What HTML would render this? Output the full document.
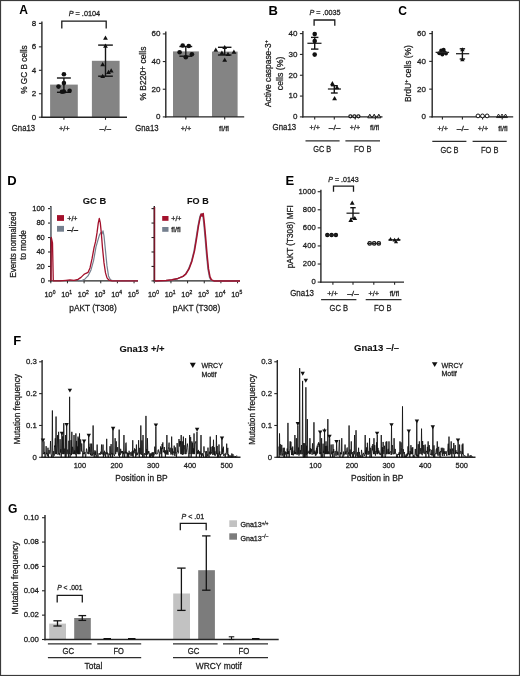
<!DOCTYPE html>
<html><head><meta charset="utf-8"><style>
html,body{margin:0;padding:0;background:#fff;}
svg{display:block;will-change:transform;}
text{font-family:"Liberation Sans", sans-serif;}
</style></head><body>
<svg width="520" height="676" viewBox="0 0 520 676" font-family="Liberation Sans, sans-serif">
<rect x="0" y="0" width="520" height="676" fill="#fff"/>
<text transform="translate(19.20 14.40) scale(0.93 1)" font-size="13" font-weight="bold" fill="#000">A</text>
<rect x="50.10" y="84.60" width="27.70" height="32.60" fill="#848484"/>
<rect x="91.90" y="60.80" width="27.70" height="56.40" fill="#848484"/>
<line x1="41.90" y1="21.60" x2="41.90" y2="117.90" stroke="#262626" stroke-width="1.4"/>
<line x1="38.90" y1="23.40" x2="41.90" y2="23.40" stroke="#262626" stroke-width="1.1"/>
<text x="36.30" y="25.78" font-size="8.0" text-anchor="end" fill="#1e1e1e" stroke="#1e1e1e" stroke-width="0.28">8</text>
<line x1="38.90" y1="46.85" x2="41.90" y2="46.85" stroke="#262626" stroke-width="1.1"/>
<text x="36.30" y="49.23" font-size="8.0" text-anchor="end" fill="#1e1e1e" stroke="#1e1e1e" stroke-width="0.28">6</text>
<line x1="38.90" y1="70.30" x2="41.90" y2="70.30" stroke="#262626" stroke-width="1.1"/>
<text x="36.30" y="72.68" font-size="8.0" text-anchor="end" fill="#1e1e1e" stroke="#1e1e1e" stroke-width="0.28">4</text>
<line x1="38.90" y1="93.75" x2="41.90" y2="93.75" stroke="#262626" stroke-width="1.1"/>
<text x="36.30" y="96.13" font-size="8.0" text-anchor="end" fill="#1e1e1e" stroke="#1e1e1e" stroke-width="0.28">2</text>
<line x1="38.90" y1="117.20" x2="41.90" y2="117.20" stroke="#262626" stroke-width="1.1"/>
<text x="36.30" y="119.58" font-size="8.0" text-anchor="end" fill="#1e1e1e" stroke="#1e1e1e" stroke-width="0.28">0</text>
<line x1="41.20" y1="117.20" x2="127.00" y2="117.20" stroke="#262626" stroke-width="1.4"/>
<line x1="63.90" y1="117.20" x2="63.90" y2="119.80" stroke="#262626" stroke-width="1.1"/>
<line x1="105.50" y1="117.20" x2="105.50" y2="119.80" stroke="#262626" stroke-width="1.1"/>
<line x1="63.90" y1="78.00" x2="63.90" y2="92.30" stroke="#141414" stroke-width="1.4"/>
<line x1="56.95" y1="78.00" x2="70.85" y2="78.00" stroke="#141414" stroke-width="1.4"/>
<line x1="56.95" y1="92.30" x2="70.85" y2="92.30" stroke="#141414" stroke-width="1.4"/>
<circle cx="63.90" cy="74.20" r="2.3" fill="#111"/>
<circle cx="63.90" cy="83.10" r="2.3" fill="#111"/>
<circle cx="58.50" cy="86.60" r="2.3" fill="#111"/>
<circle cx="63.90" cy="91.50" r="2.3" fill="#111"/>
<circle cx="69.60" cy="90.80" r="2.3" fill="#111"/>
<circle cx="62.00" cy="91.80" r="2.3" fill="#111"/>
<line x1="105.50" y1="45.10" x2="105.50" y2="76.20" stroke="#141414" stroke-width="1.4"/>
<line x1="98.15" y1="45.10" x2="112.85" y2="45.10" stroke="#141414" stroke-width="1.4"/>
<line x1="98.15" y1="76.20" x2="112.85" y2="76.20" stroke="#141414" stroke-width="1.4"/>
<polygon points="103.10,39.81 107.90,39.81 105.50,35.59" fill="#111"/>
<polygon points="103.10,47.71 107.90,47.71 105.50,43.49" fill="#111"/>
<polygon points="100.30,66.31 105.10,66.31 102.70,62.09" fill="#111"/>
<polygon points="108.80,72.41 113.60,72.41 111.20,68.19" fill="#111"/>
<polygon points="106.10,73.91 110.90,73.91 108.50,69.69" fill="#111"/>
<polygon points="100.30,77.91 105.10,77.91 102.70,73.69" fill="#111"/>
<polyline points="61.80,28.50 61.80,21.20 106.20,21.20 106.20,28.50" fill="none" stroke="#1a1a1a" stroke-width="1.3"/>
<text x="84.40" y="15.60" font-size="7.3" text-anchor="middle" fill="#1e1e1e" stroke="#1e1e1e" stroke-width="0.28" textLength="31.4" lengthAdjust="spacingAndGlyphs"><tspan font-style="italic">P</tspan> = .0104</text>
<text x="26.60" y="69.50" font-size="8.2" text-anchor="middle" textLength="48.5" lengthAdjust="spacingAndGlyphs" transform="rotate(-90 26.60 69.50)" fill="#1e1e1e" stroke="#1e1e1e" stroke-width="0.28">% GC B cells</text>
<text x="11.80" y="130.50" font-size="8.6" textLength="23.3" lengthAdjust="spacingAndGlyphs" fill="#1e1e1e" stroke="#1e1e1e" stroke-width="0.28">Gna13</text>
<text x="64.20" y="130.50" font-size="7.4" text-anchor="middle" textLength="10.6" lengthAdjust="spacingAndGlyphs" fill="#1e1e1e" stroke="#1e1e1e" stroke-width="0.28">+/+</text>
<text x="105.30" y="130.50" font-size="7.4" text-anchor="middle" textLength="11.4" lengthAdjust="spacingAndGlyphs" fill="#1e1e1e" stroke="#1e1e1e" stroke-width="0.28">–/–</text>
<rect x="173.00" y="51.40" width="25.90" height="65.50" fill="#848484"/>
<rect x="212.00" y="51.60" width="25.60" height="65.30" fill="#848484"/>
<line x1="165.80" y1="31.60" x2="165.80" y2="117.60" stroke="#262626" stroke-width="1.4"/>
<line x1="162.80" y1="33.90" x2="165.80" y2="33.90" stroke="#262626" stroke-width="1.1"/>
<text x="160.40" y="36.28" font-size="8.0" text-anchor="end" fill="#1e1e1e" stroke="#1e1e1e" stroke-width="0.28">60</text>
<line x1="162.80" y1="61.57" x2="165.80" y2="61.57" stroke="#262626" stroke-width="1.1"/>
<text x="160.40" y="63.95" font-size="8.0" text-anchor="end" fill="#1e1e1e" stroke="#1e1e1e" stroke-width="0.28">40</text>
<line x1="162.80" y1="89.23" x2="165.80" y2="89.23" stroke="#262626" stroke-width="1.1"/>
<text x="160.40" y="91.61" font-size="8.0" text-anchor="end" fill="#1e1e1e" stroke="#1e1e1e" stroke-width="0.28">20</text>
<line x1="162.80" y1="116.90" x2="165.80" y2="116.90" stroke="#262626" stroke-width="1.1"/>
<text x="160.40" y="119.28" font-size="8.0" text-anchor="end" fill="#1e1e1e" stroke="#1e1e1e" stroke-width="0.28">0</text>
<line x1="165.10" y1="116.90" x2="244.20" y2="116.90" stroke="#262626" stroke-width="1.4"/>
<line x1="185.80" y1="116.90" x2="185.80" y2="119.50" stroke="#262626" stroke-width="1.1"/>
<line x1="224.70" y1="116.90" x2="224.70" y2="119.50" stroke="#262626" stroke-width="1.1"/>
<line x1="185.80" y1="46.50" x2="185.80" y2="56.20" stroke="#141414" stroke-width="1.4"/>
<line x1="179.40" y1="46.50" x2="192.20" y2="46.50" stroke="#141414" stroke-width="1.4"/>
<line x1="179.40" y1="56.20" x2="192.20" y2="56.20" stroke="#141414" stroke-width="1.4"/>
<circle cx="182.70" cy="45.50" r="2.3" fill="#111"/>
<circle cx="188.80" cy="46.00" r="2.3" fill="#111"/>
<circle cx="179.60" cy="52.20" r="2.3" fill="#111"/>
<circle cx="191.90" cy="54.20" r="2.3" fill="#111"/>
<circle cx="185.80" cy="57.30" r="2.3" fill="#111"/>
<line x1="224.70" y1="47.30" x2="224.70" y2="55.00" stroke="#141414" stroke-width="1.4"/>
<line x1="217.95" y1="47.30" x2="231.45" y2="47.30" stroke="#141414" stroke-width="1.4"/>
<line x1="217.95" y1="55.00" x2="231.45" y2="55.00" stroke="#141414" stroke-width="1.4"/>
<polygon points="213.40,51.71 218.20,51.71 215.80,47.49" fill="#111"/>
<polygon points="222.30,49.11 227.10,49.11 224.70,44.89" fill="#111"/>
<polygon points="219.50,54.81 224.30,54.81 221.90,50.59" fill="#111"/>
<polygon points="225.60,55.91 230.40,55.91 228.00,51.69" fill="#111"/>
<polygon points="231.50,53.71 236.30,53.71 233.90,49.49" fill="#111"/>
<polygon points="222.30,61.71 227.10,61.71 224.70,57.49" fill="#111"/>
<text x="145.60" y="73.60" font-size="8.4" text-anchor="middle" textLength="54.0" lengthAdjust="spacingAndGlyphs" transform="rotate(-90 145.60 73.60)" fill="#1e1e1e" stroke="#1e1e1e" stroke-width="0.28">% B220+ cells</text>
<text x="135.30" y="130.50" font-size="8.6" textLength="23.2" lengthAdjust="spacingAndGlyphs" fill="#1e1e1e" stroke="#1e1e1e" stroke-width="0.28">Gna13</text>
<text x="186.00" y="130.50" font-size="7.4" text-anchor="middle" textLength="10.6" lengthAdjust="spacingAndGlyphs" fill="#1e1e1e" stroke="#1e1e1e" stroke-width="0.28">+/+</text>
<text x="224.10" y="130.50" font-size="7.4" text-anchor="middle" textLength="10.0" lengthAdjust="spacingAndGlyphs" fill="#1e1e1e" stroke="#1e1e1e" stroke-width="0.28">fl/fl</text>
<text transform="translate(268.50 14.50) scale(1.0 1)" font-size="13" font-weight="bold" fill="#000">B</text>
<line x1="302.90" y1="31.00" x2="302.90" y2="117.60" stroke="#262626" stroke-width="1.4"/>
<line x1="299.90" y1="33.60" x2="302.90" y2="33.60" stroke="#262626" stroke-width="1.1"/>
<text x="297.50" y="35.98" font-size="8.0" text-anchor="end" fill="#1e1e1e" stroke="#1e1e1e" stroke-width="0.28">40</text>
<line x1="299.90" y1="54.42" x2="302.90" y2="54.42" stroke="#262626" stroke-width="1.1"/>
<text x="297.50" y="56.80" font-size="8.0" text-anchor="end" fill="#1e1e1e" stroke="#1e1e1e" stroke-width="0.28">30</text>
<line x1="299.90" y1="75.25" x2="302.90" y2="75.25" stroke="#262626" stroke-width="1.1"/>
<text x="297.50" y="77.63" font-size="8.0" text-anchor="end" fill="#1e1e1e" stroke="#1e1e1e" stroke-width="0.28">20</text>
<line x1="299.90" y1="96.08" x2="302.90" y2="96.08" stroke="#262626" stroke-width="1.1"/>
<text x="297.50" y="98.45" font-size="8.0" text-anchor="end" fill="#1e1e1e" stroke="#1e1e1e" stroke-width="0.28">10</text>
<line x1="299.90" y1="116.90" x2="302.90" y2="116.90" stroke="#262626" stroke-width="1.1"/>
<text x="297.50" y="119.28" font-size="8.0" text-anchor="end" fill="#1e1e1e" stroke="#1e1e1e" stroke-width="0.28">0</text>
<line x1="302.20" y1="116.90" x2="382.50" y2="116.90" stroke="#262626" stroke-width="1.4"/>
<line x1="314.70" y1="116.90" x2="314.70" y2="119.50" stroke="#262626" stroke-width="1.1"/>
<line x1="334.30" y1="116.90" x2="334.30" y2="119.50" stroke="#262626" stroke-width="1.1"/>
<line x1="355.30" y1="116.90" x2="355.30" y2="119.50" stroke="#262626" stroke-width="1.1"/>
<line x1="375.40" y1="116.90" x2="375.40" y2="119.50" stroke="#262626" stroke-width="1.1"/>
<line x1="307.40" y1="43.30" x2="321.50" y2="43.30" stroke="#262626" stroke-width="1.3"/>
<line x1="314.70" y1="37.40" x2="314.70" y2="49.10" stroke="#141414" stroke-width="1.4"/>
<line x1="311.00" y1="37.40" x2="318.40" y2="37.40" stroke="#141414" stroke-width="1.4"/>
<line x1="311.00" y1="49.10" x2="318.40" y2="49.10" stroke="#141414" stroke-width="1.4"/>
<circle cx="314.70" cy="34.10" r="2.3" fill="#111"/>
<circle cx="314.70" cy="41.10" r="2.3" fill="#111"/>
<circle cx="314.70" cy="54.60" r="2.3" fill="#111"/>
<line x1="327.90" y1="89.00" x2="341.00" y2="89.00" stroke="#262626" stroke-width="1.3"/>
<line x1="334.30" y1="85.70" x2="334.30" y2="93.00" stroke="#141414" stroke-width="1.4"/>
<line x1="330.90" y1="85.70" x2="337.70" y2="85.70" stroke="#141414" stroke-width="1.4"/>
<line x1="330.90" y1="93.00" x2="337.70" y2="93.00" stroke="#141414" stroke-width="1.4"/>
<polygon points="330.00,85.21 334.80,85.21 332.40,80.99" fill="#111"/>
<polygon points="334.60,89.21 339.40,89.21 337.00,84.99" fill="#111"/>
<polygon points="332.20,100.21 337.00,100.21 334.60,95.99" fill="#111"/>
<circle cx="350.40" cy="116.30" r="1.55" fill="#ddd" stroke="#111" stroke-width="1.2"/>
<circle cx="354.40" cy="116.30" r="1.55" fill="#ddd" stroke="#111" stroke-width="1.2"/>
<circle cx="358.40" cy="116.30" r="1.55" fill="#ddd" stroke="#111" stroke-width="1.2"/>
<polygon points="367.70,117.85 371.90,117.85 369.80,114.15" fill="#999" stroke="#111" stroke-width="0.9"/>
<polygon points="372.10,117.85 376.30,117.85 374.20,114.15" fill="#999" stroke="#111" stroke-width="0.9"/>
<polygon points="376.70,117.85 380.90,117.85 378.80,114.15" fill="#999" stroke="#111" stroke-width="0.9"/>
<polyline points="314.10,25.80 314.10,20.00 334.80,20.00 334.80,25.80" fill="none" stroke="#1a1a1a" stroke-width="1.3"/>
<text x="324.90" y="15.30" font-size="7.3" text-anchor="middle" fill="#1e1e1e" stroke="#1e1e1e" stroke-width="0.28" textLength="31.0" lengthAdjust="spacingAndGlyphs"><tspan font-style="italic">P</tspan> = .0035</text>
<text x="271.00" y="73.70" font-size="8.4" text-anchor="middle" transform="rotate(-90 271.00 73.70)" fill="#1e1e1e" stroke="#1e1e1e" stroke-width="0.28">Active caspase-3<tspan dy="-2.6" font-size="5.2">+</tspan></text>
<text x="283.40" y="73.40" font-size="8.6" text-anchor="middle" textLength="33.5" lengthAdjust="spacingAndGlyphs" transform="rotate(-90 283.40 73.40)" fill="#1e1e1e" stroke="#1e1e1e" stroke-width="0.28">cells (%)</text>
<text x="272.60" y="130.40" font-size="8.6" textLength="23.5" lengthAdjust="spacingAndGlyphs" fill="#1e1e1e" stroke="#1e1e1e" stroke-width="0.28">Gna13</text>
<text x="314.70" y="130.40" font-size="7.4" text-anchor="middle" textLength="10.4" lengthAdjust="spacingAndGlyphs" fill="#1e1e1e" stroke="#1e1e1e" stroke-width="0.28">+/+</text>
<text x="334.60" y="130.40" font-size="7.4" text-anchor="middle" textLength="11.6" lengthAdjust="spacingAndGlyphs" fill="#1e1e1e" stroke="#1e1e1e" stroke-width="0.28">–/–</text>
<text x="355.00" y="130.40" font-size="7.4" text-anchor="middle" textLength="10.4" lengthAdjust="spacingAndGlyphs" fill="#1e1e1e" stroke="#1e1e1e" stroke-width="0.28">+/+</text>
<text x="374.60" y="130.40" font-size="7.4" text-anchor="middle" textLength="9.2" lengthAdjust="spacingAndGlyphs" fill="#1e1e1e" stroke="#1e1e1e" stroke-width="0.28">fl/fl</text>
<line x1="305.50" y1="140.90" x2="339.60" y2="140.90" stroke="#2e2e2e" stroke-width="1.3"/>
<line x1="345.40" y1="140.90" x2="380.00" y2="140.90" stroke="#2e2e2e" stroke-width="1.3"/>
<text x="322.20" y="152.10" font-size="9.2" text-anchor="middle" textLength="18.0" lengthAdjust="spacingAndGlyphs" fill="#1e1e1e" stroke="#1e1e1e" stroke-width="0.28">GC B</text>
<text x="362.70" y="152.10" font-size="9.2" text-anchor="middle" textLength="17.4" lengthAdjust="spacingAndGlyphs" fill="#1e1e1e" stroke="#1e1e1e" stroke-width="0.28">FO B</text>
<text transform="translate(398.20 14.60) scale(0.93 1)" font-size="13" font-weight="bold" fill="#000">C</text>
<line x1="432.20" y1="31.00" x2="432.20" y2="117.60" stroke="#262626" stroke-width="1.4"/>
<line x1="429.20" y1="33.60" x2="432.20" y2="33.60" stroke="#262626" stroke-width="1.1"/>
<text x="425.90" y="35.98" font-size="8.0" text-anchor="end" fill="#1e1e1e" stroke="#1e1e1e" stroke-width="0.28">60</text>
<line x1="429.20" y1="61.37" x2="432.20" y2="61.37" stroke="#262626" stroke-width="1.1"/>
<text x="425.90" y="63.75" font-size="8.0" text-anchor="end" fill="#1e1e1e" stroke="#1e1e1e" stroke-width="0.28">40</text>
<line x1="429.20" y1="89.13" x2="432.20" y2="89.13" stroke="#262626" stroke-width="1.1"/>
<text x="425.90" y="91.51" font-size="8.0" text-anchor="end" fill="#1e1e1e" stroke="#1e1e1e" stroke-width="0.28">20</text>
<line x1="429.20" y1="116.90" x2="432.20" y2="116.90" stroke="#262626" stroke-width="1.1"/>
<text x="425.90" y="119.28" font-size="8.0" text-anchor="end" fill="#1e1e1e" stroke="#1e1e1e" stroke-width="0.28">0</text>
<line x1="431.50" y1="116.90" x2="513.20" y2="116.90" stroke="#262626" stroke-width="1.4"/>
<line x1="442.40" y1="116.90" x2="442.40" y2="119.50" stroke="#262626" stroke-width="1.1"/>
<line x1="462.40" y1="116.90" x2="462.40" y2="119.50" stroke="#262626" stroke-width="1.1"/>
<line x1="482.60" y1="116.90" x2="482.60" y2="119.50" stroke="#262626" stroke-width="1.1"/>
<line x1="502.20" y1="116.90" x2="502.20" y2="119.50" stroke="#262626" stroke-width="1.1"/>
<circle cx="441.20" cy="50.60" r="2.0" fill="#111"/>
<circle cx="443.60" cy="49.80" r="2.0" fill="#111"/>
<circle cx="439.30" cy="53.30" r="2.0" fill="#111"/>
<circle cx="446.00" cy="53.40" r="2.0" fill="#111"/>
<circle cx="442.30" cy="54.60" r="2.0" fill="#111"/>
<circle cx="444.50" cy="52.20" r="2.0" fill="#111"/>
<line x1="435.60" y1="52.40" x2="449.10" y2="52.40" stroke="#262626" stroke-width="1.3"/>
<line x1="456.00" y1="53.70" x2="469.20" y2="53.70" stroke="#262626" stroke-width="1.3"/>
<line x1="462.40" y1="48.80" x2="462.40" y2="59.00" stroke="#141414" stroke-width="1.4"/>
<line x1="459.70" y1="48.80" x2="465.10" y2="48.80" stroke="#141414" stroke-width="1.4"/>
<line x1="459.70" y1="59.00" x2="465.10" y2="59.00" stroke="#141414" stroke-width="1.4"/>
<polygon points="460.20,51.14 464.60,51.14 462.40,47.26" fill="#111"/>
<polygon points="460.20,61.34 464.60,61.34 462.40,57.46" fill="#111"/>
<circle cx="478.00" cy="115.90" r="1.9" fill="#fff" stroke="#111" stroke-width="1.0"/>
<circle cx="482.50" cy="115.90" r="1.9" fill="#fff" stroke="#111" stroke-width="1.0"/>
<circle cx="487.10" cy="115.90" r="1.9" fill="#fff" stroke="#111" stroke-width="1.0"/>
<polygon points="496.50,117.56 500.50,117.56 498.50,114.04" fill="#fff" stroke="#111" stroke-width="0.9"/>
<polygon points="500.00,117.56 504.00,117.56 502.00,114.04" fill="#fff" stroke="#111" stroke-width="0.9"/>
<polygon points="503.50,117.56 507.50,117.56 505.50,114.04" fill="#fff" stroke="#111" stroke-width="0.9"/>
<line x1="497.00" y1="116.60" x2="507.00" y2="116.60" stroke="#262626" stroke-width="1.2"/>
<text x="411.00" y="73.60" font-size="8.4" text-anchor="middle" textLength="57.0" lengthAdjust="spacingAndGlyphs" transform="rotate(-90 411.00 73.60)" fill="#1e1e1e" stroke="#1e1e1e" stroke-width="0.28">BrdU<tspan dy="-2.6" font-size="5.2">+</tspan><tspan dy="2.6"> cells (%)</tspan></text>
<text x="442.70" y="130.50" font-size="7.4" text-anchor="middle" textLength="10.4" lengthAdjust="spacingAndGlyphs" fill="#1e1e1e" stroke="#1e1e1e" stroke-width="0.28">+/+</text>
<text x="462.60" y="130.50" font-size="7.4" text-anchor="middle" textLength="11.6" lengthAdjust="spacingAndGlyphs" fill="#1e1e1e" stroke="#1e1e1e" stroke-width="0.28">–/–</text>
<text x="483.00" y="130.50" font-size="7.4" text-anchor="middle" textLength="10.4" lengthAdjust="spacingAndGlyphs" fill="#1e1e1e" stroke="#1e1e1e" stroke-width="0.28">+/+</text>
<text x="503.00" y="130.50" font-size="7.4" text-anchor="middle" textLength="9.4" lengthAdjust="spacingAndGlyphs" fill="#1e1e1e" stroke="#1e1e1e" stroke-width="0.28">fl/fl</text>
<line x1="432.30" y1="141.30" x2="466.40" y2="141.30" stroke="#2e2e2e" stroke-width="1.3"/>
<line x1="472.60" y1="141.30" x2="506.70" y2="141.30" stroke="#2e2e2e" stroke-width="1.3"/>
<text x="449.50" y="152.60" font-size="9.2" text-anchor="middle" textLength="18.2" lengthAdjust="spacingAndGlyphs" fill="#1e1e1e" stroke="#1e1e1e" stroke-width="0.28">GC B</text>
<text x="489.70" y="152.60" font-size="9.2" text-anchor="middle" textLength="17.4" lengthAdjust="spacingAndGlyphs" fill="#1e1e1e" stroke="#1e1e1e" stroke-width="0.28">FO B</text>
<text transform="translate(7.30 184.50) scale(1.0 1)" font-size="13" font-weight="bold" fill="#000">D</text>
<line x1="50.80" y1="206.00" x2="50.80" y2="281.60" stroke="#262626" stroke-width="1.4"/>
<line x1="48.00" y1="208.60" x2="50.80" y2="208.60" stroke="#262626" stroke-width="1.1"/>
<text x="44.80" y="210.80" font-size="7.5" text-anchor="end" fill="#1e1e1e" stroke="#1e1e1e" stroke-width="0.28">100</text>
<line x1="48.00" y1="223.06" x2="50.80" y2="223.06" stroke="#262626" stroke-width="1.1"/>
<text x="44.80" y="225.26" font-size="7.5" text-anchor="end" fill="#1e1e1e" stroke="#1e1e1e" stroke-width="0.28">80</text>
<line x1="48.00" y1="237.52" x2="50.80" y2="237.52" stroke="#262626" stroke-width="1.1"/>
<text x="44.80" y="239.72" font-size="7.5" text-anchor="end" fill="#1e1e1e" stroke="#1e1e1e" stroke-width="0.28">60</text>
<line x1="48.00" y1="251.98" x2="50.80" y2="251.98" stroke="#262626" stroke-width="1.1"/>
<text x="44.80" y="254.18" font-size="7.5" text-anchor="end" fill="#1e1e1e" stroke="#1e1e1e" stroke-width="0.28">40</text>
<line x1="48.00" y1="266.44" x2="50.80" y2="266.44" stroke="#262626" stroke-width="1.1"/>
<text x="44.80" y="268.64" font-size="7.5" text-anchor="end" fill="#1e1e1e" stroke="#1e1e1e" stroke-width="0.28">20</text>
<line x1="48.00" y1="280.90" x2="50.80" y2="280.90" stroke="#262626" stroke-width="1.1"/>
<text x="44.80" y="283.10" font-size="7.5" text-anchor="end" fill="#1e1e1e" stroke="#1e1e1e" stroke-width="0.28">0</text>
<line x1="50.10" y1="280.90" x2="138.00" y2="280.90" stroke="#262626" stroke-width="1.4"/>
<line x1="50.80" y1="280.90" x2="50.80" y2="283.30" stroke="#262626" stroke-width="1.0"/>
<text x="50.00" y="296.90" font-size="7.3" text-anchor="middle" fill="#1e1e1e" stroke="#1e1e1e" stroke-width="0.28">10<tspan dy="-2.8" font-size="5">0</tspan></text>
<line x1="67.45" y1="280.90" x2="67.45" y2="283.30" stroke="#262626" stroke-width="1.0"/>
<text x="66.65" y="296.90" font-size="7.3" text-anchor="middle" fill="#1e1e1e" stroke="#1e1e1e" stroke-width="0.28">10<tspan dy="-2.8" font-size="5">1</tspan></text>
<line x1="84.10" y1="280.90" x2="84.10" y2="283.30" stroke="#262626" stroke-width="1.0"/>
<text x="83.30" y="296.90" font-size="7.3" text-anchor="middle" fill="#1e1e1e" stroke="#1e1e1e" stroke-width="0.28">10<tspan dy="-2.8" font-size="5">2</tspan></text>
<line x1="100.75" y1="280.90" x2="100.75" y2="283.30" stroke="#262626" stroke-width="1.0"/>
<text x="99.95" y="296.90" font-size="7.3" text-anchor="middle" fill="#1e1e1e" stroke="#1e1e1e" stroke-width="0.28">10<tspan dy="-2.8" font-size="5">3</tspan></text>
<line x1="117.40" y1="280.90" x2="117.40" y2="283.30" stroke="#262626" stroke-width="1.0"/>
<text x="116.60" y="296.90" font-size="7.3" text-anchor="middle" fill="#1e1e1e" stroke="#1e1e1e" stroke-width="0.28">10<tspan dy="-2.8" font-size="5">4</tspan></text>
<line x1="134.05" y1="280.90" x2="134.05" y2="283.30" stroke="#262626" stroke-width="1.0"/>
<text x="133.25" y="296.90" font-size="7.3" text-anchor="middle" fill="#1e1e1e" stroke="#1e1e1e" stroke-width="0.28">10<tspan dy="-2.8" font-size="5">5</tspan></text>
<text x="94.50" y="204.00" font-size="9.2" text-anchor="middle" font-weight="bold" textLength="23.4" lengthAdjust="spacingAndGlyphs" fill="#111" stroke="#111" stroke-width="0.1">GC B</text>
<text x="93.00" y="310.60" font-size="9.3" text-anchor="middle" textLength="47.5" lengthAdjust="spacingAndGlyphs" fill="#1e1e1e" stroke="#1e1e1e" stroke-width="0.28">pAKT (T308)</text>
<polyline points="78.00,280.90 82.00,280.60 85.00,278.90 88.00,275.90 91.00,269.90 93.50,260.90 96.00,246.90 98.00,239.90 99.50,234.90 101.00,232.30 102.00,233.90 103.00,230.90 104.00,235.90 105.50,250.90 107.00,265.90 108.50,275.90 110.50,279.90 113.00,280.90 138.00,280.90" fill="none" stroke="#75808f" stroke-width="1.2" stroke-linejoin="round"/>
<line x1="50.80" y1="207.00" x2="50.80" y2="237.50" stroke="#7d838c" stroke-width="1.4"/>
<polyline points="51.00,280.90 51.30,237.50 52.50,243.00 53.30,280.90 60.00,280.90 66.00,280.30 70.00,279.90 74.00,280.40 78.00,279.40 81.00,277.40 84.00,274.40 86.00,273.30 88.00,272.40 90.00,267.90 92.00,258.90 94.00,247.90 95.60,241.40 97.00,232.90 98.30,222.90 99.30,218.40 100.30,222.90 101.30,232.90 102.50,247.90 104.00,262.90 105.50,272.90 107.00,277.90 109.00,280.20 112.00,280.90 138.00,280.90" fill="none" stroke="#a3112c" stroke-width="1.3" stroke-linejoin="round"/>
<rect x="57.00" y="215.10" width="7.00" height="5.80" fill="#a3112c"/>
<rect x="57.00" y="225.90" width="7.00" height="5.80" fill="#75808f"/>
<text x="67.30" y="220.80" font-size="7.3" textLength="10.2" lengthAdjust="spacingAndGlyphs" fill="#1e1e1e" stroke="#1e1e1e" stroke-width="0.28">+/+</text>
<text x="67.30" y="231.60" font-size="7.3" textLength="10.8" lengthAdjust="spacingAndGlyphs" fill="#1e1e1e" stroke="#1e1e1e" stroke-width="0.28">–/–</text>
<line x1="154.30" y1="206.00" x2="154.30" y2="281.60" stroke="#262626" stroke-width="1.4"/>
<line x1="151.50" y1="208.60" x2="154.30" y2="208.60" stroke="#262626" stroke-width="1.1"/>
<text x="148.30" y="210.80" font-size="7.5" text-anchor="end" fill="#1e1e1e" stroke="#1e1e1e" stroke-width="0.28"></text>
<line x1="151.50" y1="223.06" x2="154.30" y2="223.06" stroke="#262626" stroke-width="1.1"/>
<text x="148.30" y="225.26" font-size="7.5" text-anchor="end" fill="#1e1e1e" stroke="#1e1e1e" stroke-width="0.28"></text>
<line x1="151.50" y1="237.52" x2="154.30" y2="237.52" stroke="#262626" stroke-width="1.1"/>
<text x="148.30" y="239.72" font-size="7.5" text-anchor="end" fill="#1e1e1e" stroke="#1e1e1e" stroke-width="0.28"></text>
<line x1="151.50" y1="251.98" x2="154.30" y2="251.98" stroke="#262626" stroke-width="1.1"/>
<text x="148.30" y="254.18" font-size="7.5" text-anchor="end" fill="#1e1e1e" stroke="#1e1e1e" stroke-width="0.28"></text>
<line x1="151.50" y1="266.44" x2="154.30" y2="266.44" stroke="#262626" stroke-width="1.1"/>
<text x="148.30" y="268.64" font-size="7.5" text-anchor="end" fill="#1e1e1e" stroke="#1e1e1e" stroke-width="0.28"></text>
<line x1="151.50" y1="280.90" x2="154.30" y2="280.90" stroke="#262626" stroke-width="1.1"/>
<text x="148.30" y="283.10" font-size="7.5" text-anchor="end" fill="#1e1e1e" stroke="#1e1e1e" stroke-width="0.28"></text>
<line x1="153.60" y1="280.90" x2="240.00" y2="280.90" stroke="#262626" stroke-width="1.4"/>
<line x1="154.30" y1="280.90" x2="154.30" y2="283.30" stroke="#262626" stroke-width="1.0"/>
<text x="153.50" y="296.90" font-size="7.3" text-anchor="middle" fill="#1e1e1e" stroke="#1e1e1e" stroke-width="0.28">10<tspan dy="-2.8" font-size="5">0</tspan></text>
<line x1="170.95" y1="280.90" x2="170.95" y2="283.30" stroke="#262626" stroke-width="1.0"/>
<text x="170.15" y="296.90" font-size="7.3" text-anchor="middle" fill="#1e1e1e" stroke="#1e1e1e" stroke-width="0.28">10<tspan dy="-2.8" font-size="5">1</tspan></text>
<line x1="187.60" y1="280.90" x2="187.60" y2="283.30" stroke="#262626" stroke-width="1.0"/>
<text x="186.80" y="296.90" font-size="7.3" text-anchor="middle" fill="#1e1e1e" stroke="#1e1e1e" stroke-width="0.28">10<tspan dy="-2.8" font-size="5">2</tspan></text>
<line x1="204.25" y1="280.90" x2="204.25" y2="283.30" stroke="#262626" stroke-width="1.0"/>
<text x="203.45" y="296.90" font-size="7.3" text-anchor="middle" fill="#1e1e1e" stroke="#1e1e1e" stroke-width="0.28">10<tspan dy="-2.8" font-size="5">3</tspan></text>
<line x1="220.90" y1="280.90" x2="220.90" y2="283.30" stroke="#262626" stroke-width="1.0"/>
<text x="220.10" y="296.90" font-size="7.3" text-anchor="middle" fill="#1e1e1e" stroke="#1e1e1e" stroke-width="0.28">10<tspan dy="-2.8" font-size="5">4</tspan></text>
<line x1="237.55" y1="280.90" x2="237.55" y2="283.30" stroke="#262626" stroke-width="1.0"/>
<text x="236.75" y="296.90" font-size="7.3" text-anchor="middle" fill="#1e1e1e" stroke="#1e1e1e" stroke-width="0.28">10<tspan dy="-2.8" font-size="5">5</tspan></text>
<text x="197.90" y="204.00" font-size="9.2" text-anchor="middle" font-weight="bold" textLength="21.6" lengthAdjust="spacingAndGlyphs" fill="#111" stroke="#111" stroke-width="0.1">FO B</text>
<text x="196.50" y="310.60" font-size="9.3" text-anchor="middle" textLength="47.5" lengthAdjust="spacingAndGlyphs" fill="#1e1e1e" stroke="#1e1e1e" stroke-width="0.28">pAKT (T308)</text>
<polyline points="154.50,281.20 159.50,281.00 165.50,280.70 171.50,280.00 177.50,278.70 182.50,276.70 185.50,274.20 188.50,269.20 191.50,261.20 194.00,251.20 196.00,239.20 198.00,226.20 199.80,217.20 200.80,214.20 201.80,216.20 202.70,213.70 203.80,223.20 205.00,236.20 206.50,254.20 208.00,269.20 209.50,277.20 211.00,280.20 213.50,281.20 239.50,281.20" fill="none" stroke="#75808f" stroke-width="1.4" stroke-linejoin="round"/>
<polyline points="155.00,280.90 160.00,280.70 166.00,280.40 172.00,279.70 178.00,278.40 183.00,276.40 186.00,273.90 189.00,268.90 192.00,260.90 194.50,250.90 196.50,238.90 198.50,225.90 200.30,216.90 201.30,213.90 202.30,215.90 203.20,213.40 204.30,222.90 205.50,235.90 207.00,253.90 208.50,268.90 210.00,276.90 211.50,279.90 214.00,280.90 240.00,280.90" fill="none" stroke="#a3112c" stroke-width="1.5" stroke-linejoin="round"/>
<line x1="154.50" y1="207.00" x2="154.50" y2="280.90" stroke="#7a1628" stroke-width="1.5"/>
<rect x="162.20" y="216.00" width="6.30" height="4.80" fill="#a3112c"/>
<rect x="162.20" y="227.00" width="6.30" height="4.80" fill="#75808f"/>
<text x="171.30" y="221.20" font-size="7.3" textLength="10.2" lengthAdjust="spacingAndGlyphs" fill="#1e1e1e" stroke="#1e1e1e" stroke-width="0.28">+/+</text>
<text x="171.30" y="232.20" font-size="7.3" textLength="9.4" lengthAdjust="spacingAndGlyphs" fill="#1e1e1e" stroke="#1e1e1e" stroke-width="0.28">fl/fl</text>
<text x="16.20" y="244.70" font-size="8.6" text-anchor="middle" textLength="66.0" lengthAdjust="spacingAndGlyphs" transform="rotate(-90 16.20 244.70)" fill="#1e1e1e" stroke="#1e1e1e" stroke-width="0.28">Events normalized</text>
<text x="26.30" y="245.00" font-size="8.6" text-anchor="middle" textLength="29.5" lengthAdjust="spacingAndGlyphs" transform="rotate(-90 26.30 245.00)" fill="#1e1e1e" stroke="#1e1e1e" stroke-width="0.28">to mode</text>
<text transform="translate(285.50 184.50) scale(1.0 1)" font-size="13" font-weight="bold" fill="#000">E</text>
<line x1="320.90" y1="189.80" x2="320.90" y2="282.80" stroke="#262626" stroke-width="1.4"/>
<line x1="317.70" y1="191.70" x2="320.90" y2="191.70" stroke="#262626" stroke-width="1.1"/>
<text x="315.70" y="193.97" font-size="7.7" text-anchor="end" fill="#1e1e1e" stroke="#1e1e1e" stroke-width="0.28">1000</text>
<line x1="317.70" y1="209.78" x2="320.90" y2="209.78" stroke="#262626" stroke-width="1.1"/>
<text x="315.70" y="212.05" font-size="7.7" text-anchor="end" fill="#1e1e1e" stroke="#1e1e1e" stroke-width="0.28">800</text>
<line x1="317.70" y1="227.86" x2="320.90" y2="227.86" stroke="#262626" stroke-width="1.1"/>
<text x="315.70" y="230.13" font-size="7.7" text-anchor="end" fill="#1e1e1e" stroke="#1e1e1e" stroke-width="0.28">600</text>
<line x1="317.70" y1="245.94" x2="320.90" y2="245.94" stroke="#262626" stroke-width="1.1"/>
<text x="315.70" y="248.21" font-size="7.7" text-anchor="end" fill="#1e1e1e" stroke="#1e1e1e" stroke-width="0.28">400</text>
<line x1="317.70" y1="264.02" x2="320.90" y2="264.02" stroke="#262626" stroke-width="1.1"/>
<text x="315.70" y="266.29" font-size="7.7" text-anchor="end" fill="#1e1e1e" stroke="#1e1e1e" stroke-width="0.28">200</text>
<line x1="317.70" y1="282.10" x2="320.90" y2="282.10" stroke="#262626" stroke-width="1.1"/>
<text x="315.70" y="284.37" font-size="7.7" text-anchor="end" fill="#1e1e1e" stroke="#1e1e1e" stroke-width="0.28">0</text>
<line x1="320.20" y1="282.10" x2="404.00" y2="282.10" stroke="#262626" stroke-width="1.4"/>
<line x1="332.90" y1="282.10" x2="332.90" y2="284.70" stroke="#262626" stroke-width="1.1"/>
<line x1="353.00" y1="282.10" x2="353.00" y2="284.70" stroke="#262626" stroke-width="1.1"/>
<line x1="373.80" y1="282.10" x2="373.80" y2="284.70" stroke="#262626" stroke-width="1.1"/>
<line x1="394.60" y1="282.10" x2="394.60" y2="284.70" stroke="#262626" stroke-width="1.1"/>
<circle cx="327.30" cy="235.00" r="2.2" fill="#111"/>
<circle cx="331.60" cy="235.00" r="2.2" fill="#111"/>
<circle cx="335.90" cy="235.00" r="2.2" fill="#111"/>
<line x1="325.50" y1="235.00" x2="338.00" y2="235.00" stroke="#262626" stroke-width="1.3"/>
<line x1="346.50" y1="213.20" x2="359.50" y2="213.20" stroke="#262626" stroke-width="1.3"/>
<line x1="353.00" y1="207.70" x2="353.00" y2="218.40" stroke="#141414" stroke-width="1.4"/>
<line x1="350.30" y1="207.70" x2="355.70" y2="207.70" stroke="#141414" stroke-width="1.4"/>
<line x1="350.30" y1="218.40" x2="355.70" y2="218.40" stroke="#141414" stroke-width="1.4"/>
<polygon points="349.80,204.71 354.60,204.71 352.20,200.49" fill="#111"/>
<polygon points="348.40,221.91 353.20,221.91 350.80,217.69" fill="#111"/>
<polygon points="352.40,220.11 357.20,220.11 354.80,215.89" fill="#111"/>
<circle cx="369.70" cy="243.40" r="1.75" fill="#ddd" stroke="#111" stroke-width="1.2"/>
<circle cx="374.20" cy="243.40" r="1.75" fill="#ddd" stroke="#111" stroke-width="1.2"/>
<circle cx="378.80" cy="243.40" r="1.75" fill="#ddd" stroke="#111" stroke-width="1.2"/>
<line x1="367.00" y1="243.50" x2="381.00" y2="243.50" stroke="#262626" stroke-width="1.0"/>
<line x1="388.50" y1="239.80" x2="400.50" y2="239.80" stroke="#262626" stroke-width="1.3"/>
<polygon points="388.40,240.65 392.60,240.65 390.50,236.95" fill="#111"/>
<polygon points="392.50,241.45 396.70,241.45 394.60,237.75" fill="#111"/>
<polygon points="396.20,240.85 400.40,240.85 398.30,237.15" fill="#111"/>
<polygon points="393.90,243.35 398.10,243.35 396.00,239.65" fill="#111"/>
<polyline points="333.50,191.80 333.50,186.20 353.50,186.20 353.50,191.80" fill="none" stroke="#1a1a1a" stroke-width="1.3"/>
<text x="343.50" y="181.50" font-size="7.3" text-anchor="middle" fill="#1e1e1e" stroke="#1e1e1e" stroke-width="0.28" textLength="30.4" lengthAdjust="spacingAndGlyphs"><tspan font-style="italic">P</tspan> = .0143</text>
<text x="292.60" y="236.70" font-size="8.6" text-anchor="middle" textLength="63.0" lengthAdjust="spacingAndGlyphs" transform="rotate(-90 292.60 236.70)" fill="#1e1e1e" stroke="#1e1e1e" stroke-width="0.28">pAKT (T308) MFI</text>
<text x="290.20" y="295.80" font-size="8.6" textLength="23.8" lengthAdjust="spacingAndGlyphs" fill="#1e1e1e" stroke="#1e1e1e" stroke-width="0.28">Gna13</text>
<text x="332.50" y="295.80" font-size="7.4" text-anchor="middle" textLength="10.6" lengthAdjust="spacingAndGlyphs" fill="#1e1e1e" stroke="#1e1e1e" stroke-width="0.28">+/+</text>
<text x="353.00" y="295.80" font-size="7.4" text-anchor="middle" textLength="11.4" lengthAdjust="spacingAndGlyphs" fill="#1e1e1e" stroke="#1e1e1e" stroke-width="0.28">–/–</text>
<text x="373.80" y="295.80" font-size="7.4" text-anchor="middle" textLength="10.6" lengthAdjust="spacingAndGlyphs" fill="#1e1e1e" stroke="#1e1e1e" stroke-width="0.28">+/+</text>
<text x="394.40" y="295.80" font-size="7.4" text-anchor="middle" textLength="9.4" lengthAdjust="spacingAndGlyphs" fill="#1e1e1e" stroke="#1e1e1e" stroke-width="0.28">fl/fl</text>
<line x1="321.10" y1="299.60" x2="356.40" y2="299.60" stroke="#2e2e2e" stroke-width="1.3"/>
<line x1="365.70" y1="299.60" x2="401.50" y2="299.60" stroke="#2e2e2e" stroke-width="1.3"/>
<text x="338.90" y="311.40" font-size="9.2" text-anchor="middle" textLength="18.6" lengthAdjust="spacingAndGlyphs" fill="#1e1e1e" stroke="#1e1e1e" stroke-width="0.28">GC B</text>
<text x="382.80" y="311.40" font-size="9.2" text-anchor="middle" textLength="17.6" lengthAdjust="spacingAndGlyphs" fill="#1e1e1e" stroke="#1e1e1e" stroke-width="0.28">FO B</text>
<text transform="translate(13.30 345.10) scale(1.0 1)" font-size="13" font-weight="bold" fill="#000">F</text>
<line x1="42.10" y1="360.00" x2="42.10" y2="458.00" stroke="#262626" stroke-width="1.4"/>
<line x1="39.10" y1="361.80" x2="42.10" y2="361.80" stroke="#262626" stroke-width="1.1"/>
<text x="36.80" y="364.11" font-size="7.8" text-anchor="end" fill="#1e1e1e" stroke="#1e1e1e" stroke-width="0.28">0.3</text>
<line x1="39.10" y1="393.63" x2="42.10" y2="393.63" stroke="#262626" stroke-width="1.1"/>
<text x="36.80" y="395.94" font-size="7.8" text-anchor="end" fill="#1e1e1e" stroke="#1e1e1e" stroke-width="0.28">0.2</text>
<line x1="39.10" y1="425.47" x2="42.10" y2="425.47" stroke="#262626" stroke-width="1.1"/>
<text x="36.80" y="427.77" font-size="7.8" text-anchor="end" fill="#1e1e1e" stroke="#1e1e1e" stroke-width="0.28">0.1</text>
<line x1="39.10" y1="457.30" x2="42.10" y2="457.30" stroke="#262626" stroke-width="1.1"/>
<text x="36.80" y="459.61" font-size="7.8" text-anchor="end" fill="#1e1e1e" stroke="#1e1e1e" stroke-width="0.28">0</text>
<line x1="41.40" y1="457.30" x2="240.50" y2="457.30" stroke="#262626" stroke-width="1.4"/>
<text x="79.90" y="468.30" font-size="7.6" text-anchor="middle" textLength="12.4" lengthAdjust="spacingAndGlyphs" fill="#1e1e1e" stroke="#1e1e1e" stroke-width="0.28">100</text>
<text x="116.60" y="468.30" font-size="7.6" text-anchor="middle" textLength="12.4" lengthAdjust="spacingAndGlyphs" fill="#1e1e1e" stroke="#1e1e1e" stroke-width="0.28">200</text>
<text x="153.30" y="468.30" font-size="7.6" text-anchor="middle" textLength="12.4" lengthAdjust="spacingAndGlyphs" fill="#1e1e1e" stroke="#1e1e1e" stroke-width="0.28">300</text>
<text x="190.00" y="468.30" font-size="7.6" text-anchor="middle" textLength="12.4" lengthAdjust="spacingAndGlyphs" fill="#1e1e1e" stroke="#1e1e1e" stroke-width="0.28">400</text>
<text x="226.70" y="468.30" font-size="7.6" text-anchor="middle" textLength="12.4" lengthAdjust="spacingAndGlyphs" fill="#1e1e1e" stroke="#1e1e1e" stroke-width="0.28">500</text>
<polyline points="43.20,453.18 43.57,454.12 43.93,441.38 44.30,454.12 44.67,451.99 45.04,457.30 45.40,455.56 45.77,454.12 46.14,446.16 46.50,454.12 46.87,452.89 47.24,455.95 47.60,455.72 47.97,447.75 48.34,457.30 48.71,453.78 49.07,449.99 49.44,453.48 49.81,453.70 50.17,450.95 50.54,441.06 50.91,454.42 51.27,454.55 51.64,457.30 52.01,454.12 52.38,410.50 52.74,454.12 53.11,457.30 53.48,451.39 53.84,451.03 54.21,455.65 54.58,445.64 54.94,447.01 55.31,438.25 55.68,454.12 56.05,416.55 56.41,454.12 56.78,451.08 57.15,444.66 57.51,435.19 57.88,454.71 58.25,454.12 58.61,431.83 58.98,454.12 59.35,453.10 59.72,455.24 60.08,439.16 60.45,452.55 60.82,449.28 61.18,457.30 61.55,454.12 61.92,433.43 62.28,454.12 62.65,436.33 63.02,443.84 63.39,454.12 63.75,423.24 64.12,454.12 64.49,450.65 64.85,448.54 65.22,457.30 65.59,435.03 65.95,457.30 66.32,454.12 66.69,425.47 67.06,454.12 67.42,450.80 67.79,449.56 68.16,453.06 68.52,457.30 68.89,440.75 69.26,454.12 69.62,396.82 69.99,457.30 70.36,454.85 70.72,452.90 71.09,440.14 71.46,455.16 71.83,431.83 72.19,454.12 72.56,446.84 72.93,448.77 73.29,451.76 73.66,454.12 74.03,435.02 74.40,454.12 74.76,450.43 75.13,453.79 75.50,454.45 75.86,433.43 76.23,457.30 76.60,440.92 76.96,452.82 77.33,446.49 77.70,454.12 78.06,436.61 78.43,454.12 78.80,438.33 79.17,454.12 79.53,433.43 79.90,454.12 80.27,447.78 80.63,439.44 81.00,449.01 81.37,451.44 81.73,443.48 82.10,451.39 82.47,451.34 82.84,457.30 83.20,453.22 83.57,454.12 83.94,441.38 84.30,454.12 84.67,452.74 85.04,452.01 85.41,457.30 85.77,457.30 86.14,452.34 86.51,448.63 86.87,450.20 87.24,453.43 87.61,453.34 87.97,452.31 88.34,454.12 88.71,435.65 89.08,454.12 89.44,446.95 89.81,451.69 90.18,443.58 90.54,455.00 90.91,453.46 91.28,455.89 91.64,443.64 92.01,451.95 92.38,453.53 92.75,455.69 93.11,425.47 93.48,454.12 93.85,453.62 94.21,457.30 94.58,451.87 94.95,450.32 95.31,455.05 95.68,451.31 96.05,457.30 96.41,455.91 96.78,454.87 97.15,444.57 97.52,454.12 97.88,457.30 98.25,455.40 98.62,454.75 98.98,453.33 99.35,454.11 99.72,453.33 100.09,454.99 100.45,452.77 100.82,451.69 101.19,454.12 101.55,444.57 101.92,454.12 102.29,454.42 102.65,454.12 103.02,444.57 103.39,457.30 103.75,452.33 104.12,455.53 104.49,450.76 104.86,453.11 105.22,452.54 105.59,457.30 105.96,452.55 106.32,454.12 106.69,438.84 107.06,454.12 107.42,452.53 107.79,455.67 108.16,457.30 108.53,457.30 108.89,453.40 109.26,455.28 109.63,454.99 109.99,446.24 110.36,453.36 110.73,457.30 111.09,444.07 111.46,454.36 111.83,453.40 112.20,452.97 112.56,457.30 112.93,428.65 113.30,454.12 113.66,453.96 114.03,455.19 114.40,455.95 114.77,454.12 115.13,438.20 115.50,454.12 115.87,453.46 116.23,441.34 116.60,451.39 116.97,452.06 117.33,450.89 117.70,447.11 118.07,452.12 118.44,453.96 118.80,455.67 119.17,429.61 119.54,457.30 119.90,452.77 120.27,454.84 120.64,448.82 121.00,452.67 121.37,453.31 121.74,450.93 122.11,452.45 122.47,451.03 122.84,457.30 123.21,452.26 123.57,454.12 123.94,435.02 124.31,454.12 124.67,457.30 125.04,451.41 125.41,453.44 125.78,443.23 126.14,442.67 126.51,453.51 126.88,452.16 127.24,457.30 127.61,452.84 127.98,455.17 128.34,452.91 128.71,457.30 129.08,450.77 129.44,452.98 129.81,454.57 130.18,453.17 130.55,452.38 130.91,455.96 131.28,455.81 131.65,452.18 132.01,451.46 132.38,455.77 132.75,440.23 133.12,457.30 133.48,450.70 133.85,451.07 134.22,453.36 134.58,448.36 134.95,451.04 135.32,449.31 135.68,457.30 136.05,454.12 136.42,444.57 136.78,455.39 137.15,452.62 137.52,454.69 137.89,453.89 138.25,453.32 138.62,440.17 138.99,454.81 139.35,457.30 139.72,447.87 140.09,454.20 140.45,454.12 140.82,425.47 141.19,454.12 141.56,454.76 141.92,440.46 142.29,453.80 142.66,457.30 143.02,435.02 143.39,455.50 143.76,455.66 144.12,457.30 144.49,453.22 144.86,454.13 145.23,454.95 145.59,454.12 145.96,415.92 146.33,457.30 146.69,449.15 147.06,454.94 147.43,438.20 147.80,454.12 148.16,450.99 148.53,453.23 148.90,451.34 149.26,454.15 149.63,457.30 150.00,453.49 150.36,457.30 150.73,453.56 151.10,454.50 151.47,455.64 151.83,452.65 152.20,457.30 152.57,452.33 152.93,454.59 153.30,457.30 153.67,452.33 154.03,455.43 154.40,453.13 154.77,446.64 155.13,450.63 155.50,454.12 155.87,427.06 156.24,454.12 156.60,454.18 156.97,454.18 157.34,454.05 157.70,453.16 158.07,449.81 158.44,449.64 158.81,452.16 159.17,451.88 159.54,457.30 159.91,453.26 160.27,451.10 160.64,446.43 161.01,454.12 161.37,447.75 161.74,457.30 162.11,444.00 162.47,448.76 162.84,442.40 163.21,452.35 163.58,450.85 163.94,451.68 164.31,447.04 164.68,453.36 165.04,450.76 165.41,457.30 165.78,450.25 166.14,454.54 166.51,454.12 166.88,435.02 167.25,454.12 167.61,450.47 167.98,454.83 168.35,449.39 168.71,446.42 169.08,442.64 169.45,451.39 169.81,451.97 170.18,447.74 170.55,453.34 170.92,454.63 171.28,454.12 171.65,436.61 172.02,454.13 172.38,448.44 172.75,455.23 173.12,454.39 173.49,451.60 173.85,452.78 174.22,445.63 174.59,455.26 174.95,456.02 175.32,447.38 175.69,453.46 176.05,452.38 176.42,457.30 176.79,453.64 177.15,443.08 177.52,451.70 177.89,450.80 178.26,453.39 178.62,452.46 178.99,439.01 179.36,446.55 179.72,441.09 180.09,444.32 180.46,441.15 180.82,454.12 181.19,435.02 181.56,454.12 181.93,454.11 182.29,441.38 182.66,455.01 183.03,454.12 183.39,436.61 183.76,454.12 184.13,445.17 184.50,447.69 184.86,449.89 185.23,454.12 185.60,438.20 185.96,454.12 186.33,452.46 186.70,448.86 187.06,446.03 187.43,443.64 187.80,447.55 188.17,452.12 188.53,454.23 188.90,457.30 189.27,454.12 189.63,435.02 190.00,454.12 190.37,437.62 190.73,436.99 191.10,457.30 191.47,454.12 191.83,441.38 192.20,454.12 192.57,442.72 192.94,452.64 193.30,448.35 193.67,454.12 194.04,433.43 194.40,454.12 194.77,444.23 195.14,442.77 195.50,442.80 195.87,441.32 196.24,457.30 196.61,454.12 196.97,431.83 197.34,454.12 197.71,450.86 198.07,453.14 198.44,449.93 198.81,453.83 199.18,451.56 199.54,457.30 199.91,451.44 200.28,452.98 200.64,454.47 201.01,435.02 201.38,457.30 201.74,453.47 202.11,455.76 202.48,453.35 202.85,454.47 203.21,454.83 203.58,457.30 203.95,446.43 204.31,451.61 204.68,451.93 205.05,452.22 205.41,451.43 205.78,457.30 206.15,453.13 206.51,451.18 206.88,457.30 207.25,454.50 207.62,455.71 207.98,447.63 208.35,454.21 208.72,455.79 209.08,457.30 209.45,451.67 209.82,454.12 210.19,436.61 210.55,454.52 210.92,446.98 211.29,451.76 211.65,453.62 212.02,451.55 212.39,446.14 212.75,455.05 213.12,454.12 213.49,439.79 213.86,454.43 214.22,447.20 214.59,455.34 214.96,451.25 215.32,455.62 215.69,454.46 216.06,454.12 216.42,435.02 216.79,454.12 217.16,445.97 217.52,457.30 217.89,453.34 218.26,457.30 218.63,454.75 218.99,444.49 219.36,454.61 219.73,451.46 220.09,457.30 220.46,454.07 220.83,455.11 221.19,454.19 221.56,454.12 221.93,438.20 222.30,454.12 222.66,448.51 223.03,452.02 223.40,446.73 223.76,455.85 224.13,454.12 224.50,454.12 224.87,454.12 225.23,457.30 225.60,453.26 225.97,453.58 226.33,452.86 226.70,443.67 227.07,454.73 227.43,452.51 227.80,447.86 228.17,457.30 228.54,454.17 228.90,456.06 229.27,457.30 229.64,456.27 230.00,455.16 230.37,456.29 230.74,457.30 231.10,456.14 231.47,457.30 231.84,453.48 232.20,456.97 232.57,457.30 232.94,454.18 233.31,456.81 233.67,456.48 234.04,456.58 234.41,456.08 234.77,456.05 235.14,457.00 235.51,456.38 235.88,457.30 236.24,456.34 236.61,455.72 236.98,455.93 237.34,456.19" fill="none" stroke="#111" stroke-width="0.85" stroke-linejoin="miter"/>
<polygon points="40.80,438.56 45.20,438.56 43.00,442.44" fill="#111"/>
<polygon points="59.70,431.66 64.10,431.66 61.90,435.54" fill="#111"/>
<polygon points="64.40,423.06 68.80,423.06 66.60,426.94" fill="#111"/>
<polygon points="67.70,388.66 72.10,388.66 69.90,392.54" fill="#111"/>
<polygon points="81.90,439.46 86.30,439.46 84.10,443.34" fill="#111"/>
<polygon points="86.60,433.76 91.00,433.76 88.80,437.64" fill="#111"/>
<polygon points="110.90,426.76 115.30,426.76 113.10,430.64" fill="#111"/>
<polygon points="153.70,423.56 158.10,423.56 155.90,427.44" fill="#111"/>
<polygon points="194.90,427.86 199.30,427.86 197.10,431.74" fill="#111"/>
<polygon points="219.80,436.46 224.20,436.46 222.00,440.34" fill="#111"/>
<text x="142.00" y="352.40" font-size="9.4" text-anchor="middle" font-weight="bold" textLength="45.2" lengthAdjust="spacingAndGlyphs" fill="#111" stroke="#111" stroke-width="0.1">Gna13 +/+</text>
<text x="141.50" y="481.30" font-size="8.8" text-anchor="middle" textLength="52.3" lengthAdjust="spacingAndGlyphs" fill="#1e1e1e" stroke="#1e1e1e" stroke-width="0.28">Position in BP</text>
<polygon points="189.80,362.66 195.80,362.66 192.80,367.94" fill="#111"/>
<text x="201.40" y="367.90" font-size="7.1" textLength="21.5" lengthAdjust="spacingAndGlyphs" fill="#1e1e1e" stroke="#1e1e1e" stroke-width="0.28">WRCY</text>
<text x="201.40" y="376.50" font-size="7.1" textLength="15.0" lengthAdjust="spacingAndGlyphs" fill="#1e1e1e" stroke="#1e1e1e" stroke-width="0.28">Motif</text>
<text x="19.60" y="409.30" font-size="8.6" text-anchor="middle" textLength="70.5" lengthAdjust="spacingAndGlyphs" transform="rotate(-90 19.60 409.30)" fill="#1e1e1e" stroke="#1e1e1e" stroke-width="0.28">Mutation frequency</text>
<line x1="277.30" y1="360.00" x2="277.30" y2="458.00" stroke="#262626" stroke-width="1.4"/>
<line x1="274.30" y1="361.80" x2="277.30" y2="361.80" stroke="#262626" stroke-width="1.1"/>
<text x="272.00" y="364.11" font-size="7.8" text-anchor="end" fill="#1e1e1e" stroke="#1e1e1e" stroke-width="0.28">0.3</text>
<line x1="274.30" y1="393.63" x2="277.30" y2="393.63" stroke="#262626" stroke-width="1.1"/>
<text x="272.00" y="395.94" font-size="7.8" text-anchor="end" fill="#1e1e1e" stroke="#1e1e1e" stroke-width="0.28">0.2</text>
<line x1="274.30" y1="425.47" x2="277.30" y2="425.47" stroke="#262626" stroke-width="1.1"/>
<text x="272.00" y="427.77" font-size="7.8" text-anchor="end" fill="#1e1e1e" stroke="#1e1e1e" stroke-width="0.28">0.1</text>
<line x1="274.30" y1="457.30" x2="277.30" y2="457.30" stroke="#262626" stroke-width="1.1"/>
<text x="272.00" y="459.61" font-size="7.8" text-anchor="end" fill="#1e1e1e" stroke="#1e1e1e" stroke-width="0.28">0</text>
<line x1="276.60" y1="457.30" x2="475.50" y2="457.30" stroke="#262626" stroke-width="1.4"/>
<text x="315.40" y="468.30" font-size="7.6" text-anchor="middle" textLength="12.4" lengthAdjust="spacingAndGlyphs" fill="#1e1e1e" stroke="#1e1e1e" stroke-width="0.28">100</text>
<text x="352.00" y="468.30" font-size="7.6" text-anchor="middle" textLength="12.4" lengthAdjust="spacingAndGlyphs" fill="#1e1e1e" stroke="#1e1e1e" stroke-width="0.28">200</text>
<text x="388.60" y="468.30" font-size="7.6" text-anchor="middle" textLength="12.4" lengthAdjust="spacingAndGlyphs" fill="#1e1e1e" stroke="#1e1e1e" stroke-width="0.28">300</text>
<text x="425.20" y="468.30" font-size="7.6" text-anchor="middle" textLength="12.4" lengthAdjust="spacingAndGlyphs" fill="#1e1e1e" stroke="#1e1e1e" stroke-width="0.28">400</text>
<text x="461.80" y="468.30" font-size="7.6" text-anchor="middle" textLength="12.4" lengthAdjust="spacingAndGlyphs" fill="#1e1e1e" stroke="#1e1e1e" stroke-width="0.28">500</text>
<polyline points="278.80,446.57 279.17,457.30 279.53,433.43 279.90,454.90 280.26,444.15 280.63,453.42 281.00,455.73 281.36,452.68 281.73,444.86 282.09,453.11 282.46,455.59 282.83,453.02 283.19,447.84 283.56,452.56 283.92,457.30 284.29,447.75 284.66,457.30 285.02,453.11 285.39,451.48 285.75,454.56 286.12,452.07 286.49,454.71 286.85,457.30 287.22,448.49 287.58,454.12 287.95,422.92 288.32,454.12 288.68,451.06 289.05,457.30 289.41,455.91 289.78,448.65 290.15,441.34 290.51,449.83 290.88,441.79 291.24,451.06 291.61,455.04 291.98,447.75 292.34,455.03 292.71,446.55 293.07,455.50 293.44,455.16 293.81,452.10 294.17,450.58 294.54,454.12 294.90,435.02 295.27,454.12 295.64,452.10 296.00,454.12 296.37,438.20 296.73,454.12 297.10,454.83 297.47,454.12 297.83,425.47 298.20,454.12 298.56,447.52 298.93,455.61 299.30,454.12 299.66,368.17 300.03,454.12 300.39,450.15 300.76,452.94 301.13,454.25 301.49,445.03 301.86,451.87 302.22,454.12 302.59,380.90 302.96,455.46 303.32,457.30 303.69,443.04 304.05,451.02 304.42,457.30 304.79,443.19 305.15,457.30 305.52,454.12 305.88,387.27 306.25,455.16 306.62,445.72 306.98,457.30 307.35,419.10 307.71,454.12 308.08,451.49 308.45,452.48 308.81,452.87 309.18,450.65 309.54,454.12 309.91,438.20 310.28,454.12 310.64,448.12 311.01,452.16 311.37,449.01 311.74,451.84 312.11,454.77 312.47,443.37 312.84,451.10 313.20,453.85 313.57,454.12 313.94,422.28 314.30,454.12 314.67,451.06 315.03,450.65 315.40,455.70 315.77,451.77 316.13,455.29 316.50,447.75 316.86,454.12 317.23,445.61 317.60,453.25 317.96,443.72 318.33,444.85 318.69,442.26 319.06,446.87 319.43,443.66 319.79,454.12 320.16,433.43 320.52,454.12 320.89,452.28 321.26,457.30 321.62,438.20 321.99,457.30 322.35,457.30 322.72,453.13 323.09,443.65 323.45,453.05 323.82,450.82 324.18,457.30 324.55,428.65 324.92,454.12 325.28,446.03 325.65,454.12 326.01,441.38 326.38,454.12 326.75,445.84 327.11,448.40 327.48,454.12 327.84,419.10 328.21,454.12 328.58,451.52 328.94,452.10 329.31,454.12 329.67,438.20 330.04,454.12 330.41,457.30 330.77,454.12 331.14,444.57 331.50,454.12 331.87,454.11 332.24,451.54 332.60,457.30 332.97,444.36 333.33,452.84 333.70,449.07 334.07,457.30 334.43,453.36 334.80,452.86 335.16,450.93 335.53,453.98 335.90,455.97 336.26,455.61 336.63,442.98 336.99,454.12 337.36,454.87 337.73,451.51 338.09,455.55 338.46,452.50 338.82,451.31 339.19,442.28 339.56,439.93 339.92,457.30 340.29,452.23 340.65,454.30 341.02,453.03 341.39,454.12 341.75,438.20 342.12,454.12 342.48,457.30 342.85,457.30 343.22,457.30 343.58,451.62 343.95,455.51 344.31,454.33 344.68,454.12 345.05,444.57 345.41,454.12 345.78,451.44 346.14,454.59 346.51,452.09 346.88,448.30 347.24,447.55 347.61,452.76 347.97,457.30 348.34,452.32 348.71,454.12 349.07,425.47 349.44,454.12 349.80,455.83 350.17,449.53 350.54,457.30 350.90,454.12 351.27,441.38 351.63,454.12 352.00,452.91 352.37,452.00 352.73,457.30 353.10,454.06 353.46,457.30 353.83,451.12 354.20,454.12 354.56,435.02 354.93,454.12 355.29,455.00 355.66,457.30 356.03,430.24 356.39,454.12 356.76,454.95 357.12,456.01 357.49,452.27 357.86,457.30 358.22,454.37 358.59,447.75 358.95,457.30 359.32,451.97 359.69,455.35 360.05,457.30 360.42,455.60 360.78,455.32 361.15,457.30 361.52,449.91 361.88,453.44 362.25,453.75 362.61,457.30 362.98,455.99 363.35,452.84 363.71,454.11 364.08,454.43 364.44,455.86 364.81,454.12 365.18,435.02 365.54,454.12 365.91,450.24 366.27,457.30 366.64,447.40 367.01,454.42 367.37,442.79 367.74,452.02 368.10,454.80 368.47,453.68 368.84,450.96 369.20,454.12 369.57,438.20 369.93,457.30 370.30,454.89 370.67,447.79 371.03,449.79 371.40,457.30 371.76,453.86 372.13,445.81 372.50,450.32 372.86,444.07 373.23,451.15 373.59,454.12 373.96,438.20 374.33,454.12 374.69,445.17 375.06,451.88 375.42,455.65 375.79,451.19 376.16,452.17 376.52,442.33 376.89,454.12 377.25,435.02 377.62,454.12 377.99,447.91 378.35,453.34 378.72,450.42 379.08,450.70 379.45,454.42 379.82,452.67 380.18,453.11 380.55,455.11 380.91,454.12 381.28,435.02 381.65,457.30 382.01,457.30 382.38,447.18 382.74,457.30 383.11,441.96 383.48,449.59 383.84,454.08 384.21,449.42 384.57,445.78 384.94,457.30 385.31,457.30 385.67,455.63 386.04,441.78 386.40,454.12 386.77,441.38 387.14,454.18 387.50,451.50 387.87,450.22 388.23,448.81 388.60,454.12 388.97,441.38 389.33,454.12 389.70,452.34 390.06,452.56 390.43,451.75 390.80,451.29 391.16,454.96 391.53,425.47 391.89,454.37 392.26,445.03 392.63,447.46 392.99,453.03 393.36,454.11 393.72,454.12 394.09,438.20 394.46,454.12 394.82,453.76 395.19,448.91 395.55,453.47 395.92,453.85 396.29,453.80 396.65,457.30 397.02,455.75 397.38,457.30 397.75,454.10 398.12,455.00 398.48,453.75 398.85,454.70 399.21,452.14 399.58,457.30 399.95,441.38 400.31,454.12 400.68,454.17 401.04,442.35 401.41,447.41 401.78,457.30 402.14,454.12 402.51,406.37 402.87,457.30 403.24,449.18 403.61,451.80 403.97,453.69 404.34,452.03 404.70,457.30 405.07,455.58 405.44,457.30 405.80,455.80 406.17,454.26 406.53,457.30 406.90,454.57 407.27,453.27 407.63,455.75 408.00,446.38 408.36,454.12 408.73,431.83 409.10,454.68 409.46,453.72 409.83,457.30 410.19,451.02 410.56,454.34 410.93,445.13 411.29,451.55 411.66,454.12 412.02,447.75 412.39,454.27 412.76,447.23 413.12,457.30 413.49,455.15 413.85,457.30 414.22,457.30 414.59,457.30 414.95,453.83 415.32,448.93 415.68,454.34 416.05,453.93 416.42,455.92 416.78,422.28 417.15,457.30 417.51,454.85 417.88,455.83 418.25,444.21 418.61,457.30 418.98,454.12 419.34,441.38 419.71,454.12 420.08,453.46 420.44,451.28 420.81,448.07 421.17,454.12 421.54,428.65 421.91,454.12 422.27,455.26 422.64,441.02 423.00,452.79 423.37,453.30 423.74,445.04 424.10,449.07 424.47,453.74 424.83,454.12 425.20,444.57 425.57,454.12 425.93,457.30 426.30,452.25 426.66,450.91 427.03,452.59 427.40,446.86 427.76,454.12 428.13,441.38 428.49,454.12 428.86,457.30 429.23,445.11 429.59,451.41 429.96,448.94 430.32,454.40 430.69,454.85 431.06,453.84 431.42,455.23 431.79,449.86 432.15,455.65 432.52,455.27 432.89,427.06 433.25,454.12 433.62,457.30 433.98,445.36 434.35,453.60 434.72,457.30 435.08,453.78 435.45,454.02 435.81,452.88 436.18,449.72 436.55,448.50 436.91,454.12 437.28,441.38 437.64,454.80 438.01,455.66 438.38,448.03 438.74,446.82 439.11,455.43 439.47,451.88 439.84,455.87 440.21,457.30 440.57,451.06 440.94,452.08 441.30,447.80 441.67,452.21 442.04,453.39 442.40,455.90 442.77,447.75 443.13,454.12 443.50,452.94 443.87,448.38 444.23,456.02 444.60,451.44 444.96,451.25 445.33,453.47 445.70,454.01 446.06,451.14 446.43,453.24 446.79,455.93 447.16,451.95 447.53,451.50 447.89,449.14 448.26,443.73 448.62,455.17 448.99,436.61 449.36,454.12 449.72,455.21 450.09,448.77 450.45,449.21 450.82,454.23 451.19,441.38 451.55,454.12 451.92,457.30 452.28,451.68 452.65,448.52 453.02,453.66 453.38,454.12 453.75,442.98 454.11,454.12 454.48,457.30 454.85,452.83 455.21,445.10 455.58,453.92 455.94,450.13 456.31,453.06 456.68,452.18 457.04,453.75 457.41,452.39 457.77,454.20 458.14,441.38 458.51,454.39 458.87,457.30 459.24,457.30 459.60,444.57 459.97,454.12 460.34,451.38 460.70,451.29 461.07,451.15 461.43,453.49 461.80,457.30 462.17,444.57 462.53,454.12 462.90,443.57 463.26,453.02 463.63,455.55 464.00,456.66 464.36,456.19 464.73,455.29 465.09,455.94 465.46,456.56 465.83,456.82 466.19,456.56 466.56,457.30 466.92,456.98 467.29,456.98 467.66,456.58 468.02,453.48 468.39,456.21 468.75,456.52 469.12,456.06 469.49,456.64 469.85,456.31 470.22,455.18 470.58,456.62 470.95,456.85 471.32,455.48 471.68,456.15 472.05,457.03 472.41,456.73" fill="none" stroke="#111" stroke-width="0.85" stroke-linejoin="miter"/>
<polygon points="295.60,422.06 300.00,422.06 297.80,425.94" fill="#111"/>
<polygon points="300.50,371.76 304.90,371.76 302.70,375.64" fill="#111"/>
<polygon points="303.60,378.76 308.00,378.76 305.80,382.64" fill="#111"/>
<polygon points="318.00,430.56 322.40,430.56 320.20,434.44" fill="#111"/>
<polygon points="322.30,429.46 326.70,429.46 324.50,433.34" fill="#111"/>
<polygon points="327.30,434.76 331.70,434.76 329.50,438.64" fill="#111"/>
<polygon points="334.30,440.06 338.70,440.06 336.50,443.94" fill="#111"/>
<polygon points="374.90,431.66 379.30,431.66 377.10,435.54" fill="#111"/>
<polygon points="389.30,423.16 393.70,423.16 391.50,427.04" fill="#111"/>
<polygon points="406.60,429.46 411.00,429.46 408.80,433.34" fill="#111"/>
<polygon points="414.70,419.56 419.10,419.56 416.90,423.44" fill="#111"/>
<polygon points="430.60,425.26 435.00,425.26 432.80,429.14" fill="#111"/>
<polygon points="455.80,438.56 460.20,438.56 458.00,442.44" fill="#111"/>
<text x="376.60" y="350.60" font-size="9.4" text-anchor="middle" font-weight="bold" textLength="45.2" lengthAdjust="spacingAndGlyphs" fill="#111" stroke="#111" stroke-width="0.1">Gna13 –/–</text>
<text x="377.20" y="481.30" font-size="8.8" text-anchor="middle" textLength="52.3" lengthAdjust="spacingAndGlyphs" fill="#1e1e1e" stroke="#1e1e1e" stroke-width="0.28">Position in BP</text>
<polygon points="431.90,362.14 437.50,362.14 434.70,367.06" fill="#111"/>
<text x="441.50" y="367.60" font-size="7.1" textLength="21.8" lengthAdjust="spacingAndGlyphs" fill="#1e1e1e" stroke="#1e1e1e" stroke-width="0.28">WRCY</text>
<text x="441.50" y="376.30" font-size="7.1" textLength="15.2" lengthAdjust="spacingAndGlyphs" fill="#1e1e1e" stroke="#1e1e1e" stroke-width="0.28">Motif</text>
<text x="254.80" y="409.50" font-size="8.6" text-anchor="middle" textLength="70.5" lengthAdjust="spacingAndGlyphs" transform="rotate(-90 254.80 409.50)" fill="#1e1e1e" stroke="#1e1e1e" stroke-width="0.28">Mutation frequency</text>
<text transform="translate(8.00 512.50) scale(0.93 1)" font-size="13" font-weight="bold" fill="#000">G</text>
<rect x="49.20" y="623.60" width="16.80" height="15.90" fill="#c2c2c2"/>
<rect x="74.20" y="618.00" width="16.60" height="21.50" fill="#7c7c7c"/>
<rect x="173.20" y="593.50" width="16.80" height="46.00" fill="#c2c2c2"/>
<rect x="198.20" y="570.20" width="16.70" height="69.30" fill="#7c7c7c"/>
<line x1="45.00" y1="515.00" x2="45.00" y2="640.20" stroke="#262626" stroke-width="1.4"/>
<line x1="42.00" y1="517.70" x2="45.00" y2="517.70" stroke="#262626" stroke-width="1.1"/>
<text x="38.90" y="520.01" font-size="7.8" text-anchor="end" fill="#1e1e1e" stroke="#1e1e1e" stroke-width="0.28">0.10</text>
<line x1="42.00" y1="542.06" x2="45.00" y2="542.06" stroke="#262626" stroke-width="1.1"/>
<text x="38.90" y="544.37" font-size="7.8" text-anchor="end" fill="#1e1e1e" stroke="#1e1e1e" stroke-width="0.28">0.08</text>
<line x1="42.00" y1="566.42" x2="45.00" y2="566.42" stroke="#262626" stroke-width="1.1"/>
<text x="38.90" y="568.73" font-size="7.8" text-anchor="end" fill="#1e1e1e" stroke="#1e1e1e" stroke-width="0.28">0.06</text>
<line x1="42.00" y1="590.78" x2="45.00" y2="590.78" stroke="#262626" stroke-width="1.1"/>
<text x="38.90" y="593.09" font-size="7.8" text-anchor="end" fill="#1e1e1e" stroke="#1e1e1e" stroke-width="0.28">0.04</text>
<line x1="42.00" y1="615.14" x2="45.00" y2="615.14" stroke="#262626" stroke-width="1.1"/>
<text x="38.90" y="617.45" font-size="7.8" text-anchor="end" fill="#1e1e1e" stroke="#1e1e1e" stroke-width="0.28">0.02</text>
<line x1="42.00" y1="639.50" x2="45.00" y2="639.50" stroke="#262626" stroke-width="1.1"/>
<text x="38.90" y="641.81" font-size="7.8" text-anchor="end" fill="#1e1e1e" stroke="#1e1e1e" stroke-width="0.28">0.00</text>
<line x1="44.30" y1="639.50" x2="278.70" y2="639.50" stroke="#262626" stroke-width="1.4"/>
<line x1="57.50" y1="620.80" x2="57.50" y2="626.00" stroke="#141414" stroke-width="1.3"/>
<line x1="53.40" y1="620.80" x2="61.60" y2="620.80" stroke="#141414" stroke-width="1.3"/>
<line x1="53.40" y1="626.00" x2="61.60" y2="626.00" stroke="#141414" stroke-width="1.3"/>
<line x1="82.30" y1="615.60" x2="82.30" y2="620.40" stroke="#141414" stroke-width="1.3"/>
<line x1="78.45" y1="615.60" x2="86.15" y2="615.60" stroke="#141414" stroke-width="1.3"/>
<line x1="78.45" y1="620.40" x2="86.15" y2="620.40" stroke="#141414" stroke-width="1.3"/>
<line x1="181.40" y1="568.10" x2="181.40" y2="610.40" stroke="#141414" stroke-width="1.3"/>
<line x1="177.20" y1="568.10" x2="185.60" y2="568.10" stroke="#141414" stroke-width="1.3"/>
<line x1="177.20" y1="610.40" x2="185.60" y2="610.40" stroke="#141414" stroke-width="1.3"/>
<line x1="206.30" y1="535.90" x2="206.30" y2="590.20" stroke="#141414" stroke-width="1.3"/>
<line x1="202.10" y1="535.90" x2="210.50" y2="535.90" stroke="#141414" stroke-width="1.3"/>
<line x1="202.10" y1="590.20" x2="210.50" y2="590.20" stroke="#141414" stroke-width="1.3"/>
<line x1="103.50" y1="638.80" x2="111.00" y2="638.80" stroke="#111" stroke-width="1.6"/>
<line x1="128.00" y1="638.80" x2="135.50" y2="638.80" stroke="#111" stroke-width="1.6"/>
<line x1="231.50" y1="636.80" x2="231.50" y2="639.50" stroke="#141414" stroke-width="1.1"/>
<line x1="228.75" y1="636.80" x2="234.25" y2="636.80" stroke="#141414" stroke-width="1.1"/>
<line x1="228.75" y1="639.50" x2="234.25" y2="639.50" stroke="#141414" stroke-width="1.1"/>
<line x1="252.00" y1="638.80" x2="259.50" y2="638.80" stroke="#111" stroke-width="1.6"/>
<polyline points="57.20,602.40 57.20,595.40 82.30,595.40 82.30,602.40" fill="none" stroke="#1a1a1a" stroke-width="1.3"/>
<text x="69.80" y="590.20" font-size="7.3" text-anchor="middle" fill="#1e1e1e" stroke="#1e1e1e" stroke-width="0.28" textLength="25.2" lengthAdjust="spacingAndGlyphs"><tspan font-style="italic">P</tspan> &lt; .001</text>
<polyline points="180.30,530.20 180.30,523.30 206.20,523.30 206.20,530.20" fill="none" stroke="#1a1a1a" stroke-width="1.3"/>
<text x="192.90" y="519.00" font-size="7.3" text-anchor="middle" fill="#1e1e1e" stroke="#1e1e1e" stroke-width="0.28" textLength="22.6" lengthAdjust="spacingAndGlyphs"><tspan font-style="italic">P</tspan> &lt; .01</text>
<text x="17.60" y="578.00" font-size="8.6" text-anchor="middle" textLength="73.0" lengthAdjust="spacingAndGlyphs" transform="rotate(-90 17.60 578.00)" fill="#1e1e1e" stroke="#1e1e1e" stroke-width="0.28">Mutation frequency</text>
<line x1="47.90" y1="643.90" x2="91.60" y2="643.90" stroke="#2e2e2e" stroke-width="1.3"/>
<line x1="97.30" y1="643.90" x2="141.20" y2="643.90" stroke="#2e2e2e" stroke-width="1.3"/>
<line x1="173.00" y1="643.90" x2="217.60" y2="643.90" stroke="#2e2e2e" stroke-width="1.3"/>
<line x1="223.00" y1="643.90" x2="268.00" y2="643.90" stroke="#2e2e2e" stroke-width="1.3"/>
<line x1="47.90" y1="657.70" x2="141.20" y2="657.70" stroke="#2e2e2e" stroke-width="1.3"/>
<line x1="173.00" y1="657.60" x2="268.00" y2="657.60" stroke="#2e2e2e" stroke-width="1.3"/>
<text x="68.20" y="653.60" font-size="8.7" text-anchor="middle" textLength="11.6" lengthAdjust="spacingAndGlyphs" fill="#1e1e1e" stroke="#1e1e1e" stroke-width="0.28">GC</text>
<text x="118.60" y="653.60" font-size="8.7" text-anchor="middle" textLength="10.4" lengthAdjust="spacingAndGlyphs" fill="#1e1e1e" stroke="#1e1e1e" stroke-width="0.28">FO</text>
<text x="193.60" y="653.60" font-size="8.7" text-anchor="middle" textLength="11.6" lengthAdjust="spacingAndGlyphs" fill="#1e1e1e" stroke="#1e1e1e" stroke-width="0.28">GC</text>
<text x="244.00" y="653.60" font-size="8.7" text-anchor="middle" textLength="10.8" lengthAdjust="spacingAndGlyphs" fill="#1e1e1e" stroke="#1e1e1e" stroke-width="0.28">FO</text>
<text x="93.40" y="669.00" font-size="9.6" text-anchor="middle" textLength="17.8" lengthAdjust="spacingAndGlyphs" fill="#1e1e1e" stroke="#1e1e1e" stroke-width="0.28">Total</text>
<text x="218.80" y="669.40" font-size="9.6" text-anchor="middle" textLength="46.2" lengthAdjust="spacingAndGlyphs" fill="#1e1e1e" stroke="#1e1e1e" stroke-width="0.28">WRCY motif</text>
<rect x="229.30" y="520.30" width="7.70" height="6.70" fill="#c2c2c2"/>
<rect x="229.30" y="533.30" width="7.70" height="6.40" fill="#7c7c7c"/>
<text x="240.4" y="527.4" font-size="7.2" fill="#1e1e1e" stroke="#1e1e1e" stroke-width="0.28"><tspan textLength="21.4" lengthAdjust="spacingAndGlyphs">Gna13</tspan><tspan dy="-2.7" font-size="4.6">+/+</tspan></text>
<text x="240.4" y="540.5" font-size="7.2" fill="#1e1e1e" stroke="#1e1e1e" stroke-width="0.28"><tspan textLength="21.4" lengthAdjust="spacingAndGlyphs">Gna13</tspan><tspan dy="-2.7" font-size="4.6">–/–</tspan></text>
<rect x="0.5" y="0.5" width="519" height="675" fill="none" stroke="#3a3a3a" stroke-width="1.2"/>
</svg>
</body></html>
